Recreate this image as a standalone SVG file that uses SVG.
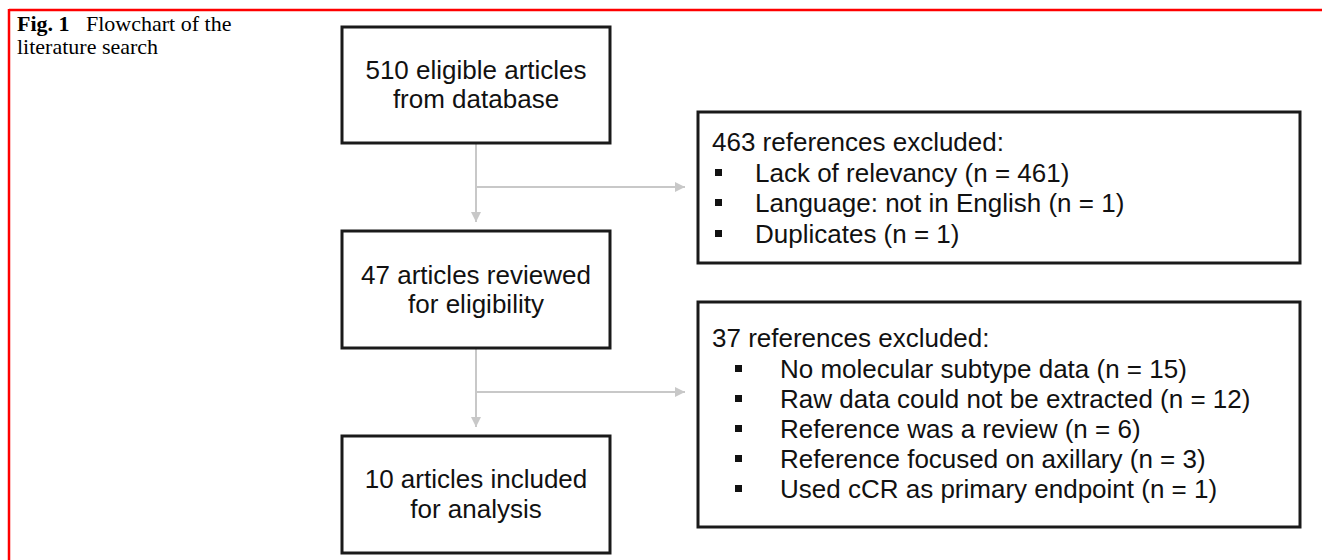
<svg xmlns="http://www.w3.org/2000/svg" width="1322" height="560" viewBox="0 0 1322 560">
<defs>
<style>
.box{fill:#fff;stroke:#1a1a1a;stroke-width:3}
.t{font-family:"Liberation Sans",Arial,sans-serif;font-size:26px;fill:#111}
.c{text-anchor:middle}
.cap{font-family:"Liberation Serif","Times New Roman",serif;font-size:22px;fill:#000}
.con{fill:none;stroke:#c8c8c8;stroke-width:2}
.b{fill:#111}
</style>
<marker id="ah" viewBox="0 0 10 10" refX="10" refY="5" markerWidth="10" markerHeight="10" markerUnits="userSpaceOnUse" orient="auto">
<path d="M0,0 L10,5 L0,10 Z" fill="#c8c8c8"/>
</marker>
</defs>
<rect width="1322" height="560" fill="#fff"/>
<g id="frame">
<line x1="9" y1="10" x2="1322" y2="10" stroke="#f00" stroke-width="2.5"/>
<line x1="9" y1="9" x2="9" y2="560" stroke="#f00" stroke-width="2.5"/>
</g>
<g id="caption">
<text class="cap" x="17" y="31"><tspan font-weight="bold">Fig. 1</tspan><tspan x="86">Flowchart of the</tspan></text>
<text class="cap" x="17" y="54">literature search</text>
</g>
<g id="connectors">
<path class="con" d="M476,143 V222" marker-end="url(#ah)"/>
<path class="con" d="M476,187 H685" marker-end="url(#ah)"/>
<path class="con" d="M476,348 V427" marker-end="url(#ah)"/>
<path class="con" d="M476,392 H685" marker-end="url(#ah)"/>
</g>
<g id="n1">
<rect class="box" x="342" y="27" width="268" height="116"/>
<text class="t c" x="476" y="79">510 eligible articles</text>
<text class="t c" x="476" y="108">from database</text>
</g>
<g id="n2">
<rect class="box" x="342" y="231" width="268" height="117"/>
<text class="t c" x="476" y="284">47 articles reviewed</text>
<text class="t c" x="476" y="313">for eligibility</text>
</g>
<g id="n3">
<rect class="box" x="342" y="436" width="268" height="117"/>
<text class="t c" x="476" y="488">10 articles included</text>
<text class="t c" x="476" y="518">for analysis</text>
</g>
<g id="ex1">
<rect class="box" x="698" y="112" width="602" height="151"/>
<text class="t" x="712" y="151">463 references excluded:</text>
<rect class="b" x="715" y="169" width="7" height="7"/>
<text class="t" x="755" y="182">Lack of relevancy (n = 461)</text>
<rect class="b" x="715" y="199" width="7" height="7"/>
<text class="t" x="755" y="212">Language: not in English (n = 1)</text>
<rect class="b" x="715" y="230" width="7" height="7"/>
<text class="t" x="755" y="243">Duplicates (n = 1)</text>
</g>
<g id="ex2">
<rect class="box" x="698" y="302" width="602" height="225"/>
<text class="t" x="712" y="347">37 references excluded:</text>
<rect class="b" x="735" y="365" width="7" height="7"/>
<text class="t" x="780" y="378">No molecular subtype data (n = 15)</text>
<rect class="b" x="735" y="395" width="7" height="7"/>
<text class="t" x="780" y="408">Raw data could not be extracted (n = 12)</text>
<rect class="b" x="735" y="425" width="7" height="7"/>
<text class="t" x="780" y="438">Reference was a review (n = 6)</text>
<rect class="b" x="735" y="455" width="7" height="7"/>
<text class="t" x="780" y="468">Reference focused on axillary (n = 3)</text>
<rect class="b" x="735" y="485" width="7" height="7"/>
<text class="t" x="780" y="498">Used cCR as primary endpoint (n = 1)</text>
</g>
</svg>
